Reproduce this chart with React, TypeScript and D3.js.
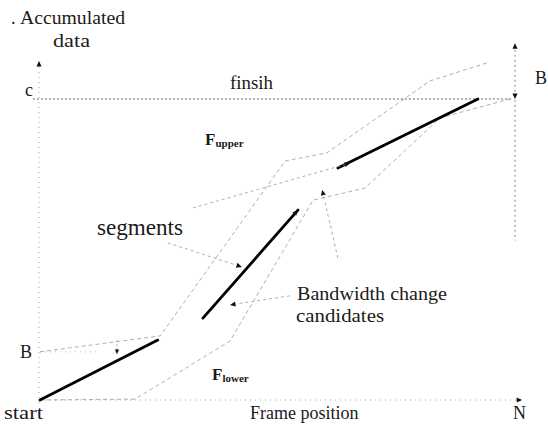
import React from "react";
import * as d3 from "d3";

// Data space: frame position 0..100 (N = 100), accumulated data 0..100 (c = 100)
const N = 100;
const C = 100;
const B = 16;

// Thick schedule segments [x0, y0, x1, y1]
const segments: [number, number, number, number][] = [
  [0, 0, 24.8, 19.9],
  [34.3, 27.2, 54.3, 63.1],
  [62.7, 77.1, 92.2, 100],
];

// Upper bound curve F_upper
const upperX = [0, 25.3, 51.6, 60.4, 82.1, 94.1];
const upperY = [16, 21.3, 79.4, 82.1, 106, 112];

// Lower bound curve F_lower
const lowerX = [0, 20, 40, 57.5, 68.4, 84.2, 98.9];
const lowerY = [0, 0.3, 19.6, 66.4, 70.4, 93.7, 100];

// Annotation pointers [x0, y0, x1, y1] (arrow at the end)
const segPointers: [number, number, number, number][] = [
  [32.2, 63.8, 65.3, 78.7],
  [26.9, 52.2, 42.5, 44.2],
];
const bwPointers: [number, number, number, number][] = [
  [52.6, 34.6, 40, 31.6],
  [62.7, 47.2, 59.4, 69.8],
];
const bMarker: [number, number, number, number] = [16.2, 19.9, 16.2, 15.3];

const W = 548;
const H = 424;

export default function App() {
  const x = d3.scaleLinear().domain([0, N]).range([40, 515]);
  const y = d3.scaleLinear().domain([0, C]).range([400, 99]);

  const line = d3
    .line<[number, number]>()
    .x((d) => x(d[0]))
    .y((d) => y(d[1]));

  const upper = upperX.map((v, i) => [v, upperY[i]] as [number, number]);
  const lower = lowerX.map((v, i) => [v, lowerY[i]] as [number, number]);

  const arrowHead = (x0: number, y0: number, x1: number, y1: number, size = 6, key?: string) => {
    const ang = Math.atan2(y1 - y0, x1 - x0);
    const a1 = ang + Math.PI * 0.86;
    const a2 = ang - Math.PI * 0.86;
    const p = [
      [x1, y1],
      [x1 + size * Math.cos(a1), y1 + size * Math.sin(a1)],
      [x1 + size * Math.cos(a2), y1 + size * Math.sin(a2)],
    ];
    return <path key={key} d={`M${p.map((q) => q.join(",")).join("L")}Z`} fill="#111" />;
  };

  const pointer = (s: [number, number, number, number], i: string) => {
    const [a, b, c, d] = s;
    return (
      <g key={i}>
        <line x1={x(a)} y1={y(b)} x2={x(c)} y2={y(d)} stroke="#999" strokeWidth={0.8} strokeDasharray="3,3" />
        {arrowHead(x(a), y(b), x(c), y(d), 6)}
      </g>
    );
  };

  const font = "'Liberation Serif', 'Times New Roman', serif";
  const txt = "#1a1a1a";
  const sp = "spacingAndGlyphs";

  return (
    <svg width={W} height={H} style={{ position: "absolute", left: 0, top: 0, background: "#fff" }} fontFamily={font}>
      <rect width={W} height={H} fill="#fff" />
      {/* y axis */}
      <line x1={x(0) - 1} y1={y(-1)} x2={x(0) - 1} y2={y(112.6)} stroke="#888" strokeWidth={0.8} strokeDasharray="1,4" />
      {arrowHead(x(0) - 1, y(100), x(0) - 1, y(112.6), 6)}
      {/* x axis */}
      <line x1={x(0)} y1={y(0)} x2={x(101.5)} y2={y(0)} stroke="#888" strokeWidth={0.8} strokeDasharray="1,4" />
      {arrowHead(x(95), y(0), x(101.5), y(0), 6)}
      {/* c line */}
      <line x1={x(-1.5)} y1={y(C)} x2={x(N) - 3} y2={y(C)} stroke="#555" strokeWidth={0.9} strokeDasharray="2,2" />
      {/* right B marker */}
      <line x1={x(N)} y1={y(C + 18)} x2={x(N)} y2={y(53)} stroke="#666" strokeWidth={0.8} strokeDasharray="2,3" />
      {arrowHead(x(N), y(C + 5), x(N), y(C + 18.5), 6)}
      {arrowHead(x(N), y(C + 10), x(N), y(C), 6)}

      {/* bound curves */}
      <path d={line(upper) ?? ""} fill="none" stroke="#9a9a9a" strokeWidth={0.8} strokeDasharray="4,3" />
      <path d={line(lower) ?? ""} fill="none" stroke="#9a9a9a" strokeWidth={0.8} strokeDasharray="4,3" />
      {/* left B dotted level */}
      <line x1={x(0)} y1={y(B)} x2={x(12)} y2={y(B)} stroke="#aaa" strokeWidth={0.8} strokeDasharray="1,4" />

      {/* schedule segments */}
      {segments.map((s, i) => (
        <line key={i} x1={x(s[0])} y1={y(s[1])} x2={x(s[2])} y2={y(s[3])} stroke="#000" strokeWidth={2.8} strokeLinecap="round" />
      ))}
      {arrowHead(x(segments[1][0]), y(segments[1][1]), x(segments[1][2]), y(segments[1][3]), 6)}

      {/* pointers */}
      {segPointers.map((s, i) => pointer(s, "s" + i))}
      {bwPointers.map((s, i) => pointer(s, "b" + i))}
      <line x1={x(bMarker[0])} y1={y(bMarker[1])} x2={x(bMarker[2])} y2={y(bMarker[3])} stroke="#999" strokeWidth={0.8} strokeDasharray="2,2" />
      {arrowHead(x(bMarker[0]), y(bMarker[1]), x(bMarker[2]), y(bMarker[3]), 5)}

      {/* texts */}
      <text x={11} y={24} fontSize={18} fill={txt}>.</text>
      <text x={20} y={24} fontSize={18} fill={txt} textLength={105} lengthAdjust={sp}>
        Accumulated
      </text>
      <text x={53} y={47} fontSize={18} fill={txt} textLength={37} lengthAdjust={sp}>
        data
      </text>
      <text x={25} y={96} fontSize={18} fill={txt}>
        c
      </text>
      <text x={230} y={89} fontSize={18} fill={txt} textLength={43} lengthAdjust={sp}>
        finsih
      </text>
      <text x={535} y={84} fontSize={18} fill={txt}>
        B
      </text>
      <text x={20} y={358} fontSize={18} fill={txt}>
        B
      </text>
      <text x={205} y={145} fontSize={17} fontWeight="bold" fill={txt}>
        F<tspan fontSize={11} dy={2}>upper</tspan>
      </text>
      <text x={212} y={380} fontSize={17} fontWeight="bold" fill={txt}>
        F<tspan fontSize={11} dy={2}>lower</tspan>
      </text>
      <text x={97} y={235} fontSize={23} fill={txt} textLength={86} lengthAdjust={sp}>
        segments
      </text>
      <text x={297} y={300} fontSize={19} fill={txt} textLength={150} lengthAdjust={sp}>
        Bandwidth change
      </text>
      <text x={296} y={322} fontSize={19} fill={txt} textLength={88} lengthAdjust={sp}>
        candidates
      </text>
      <text x={4} y={419} fontSize={19} fill={txt} textLength={39} lengthAdjust={sp}>
        start
      </text>
      <text x={250} y={419} fontSize={18} fill={txt}>
        Frame position
      </text>
      <text x={513} y={419} fontSize={18} fill={txt}>
        N
      </text>
    </svg>
  );
}
